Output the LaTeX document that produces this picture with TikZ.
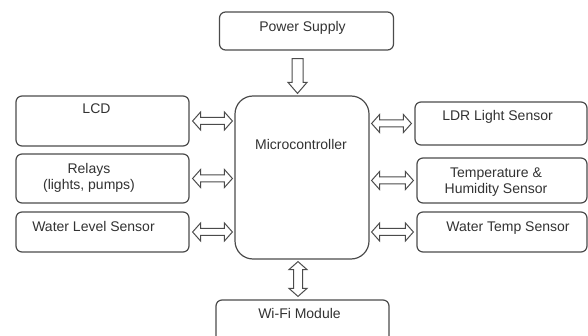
\documentclass[tikz,border=0pt]{standalone}
\usepackage{fontspec}
\setmainfont{Liberation Sans}
\usetikzlibrary{calc}
\definecolor{boxcol}{RGB}{75,75,75}
\definecolor{txtcol}{RGB}{50,50,50}
\tikzset{every picture/.style={x=1pt,y=-1pt}}
\tikzset{block/.style={draw=boxcol,line width=1.2pt,rounded corners=6pt,minimum width=174,minimum height=40,inner sep=0pt}}
\tikzset{lbl/.style={text=txtcol,font=\fontsize{14}{16}\selectfont,align=center,inner sep=0pt,anchor=north}}
\tikzset{hollow/.style={draw=boxcol,line width=1pt,line join=miter}}
\tikzset{lr arrow/.style={hollow,to path={let \p1=(\tikztostart), \p2=(\tikztotarget) in
  (\p1) -- ++(8pt,9pt) -- ++(0pt,-5.5pt) -- (\x2-8pt,\y1+3.5pt) -- ++(0pt,5.5pt) -- (\x2,\y1)
  -- ++(-8pt,-9pt) -- ++(0pt,5.5pt) -- (\x1+8pt,\y1-3.5pt) -- ++(0pt,-5.5pt) -- cycle}}}
\tikzset{ud arrow/.style={hollow,to path={let \p1=(\tikztostart), \p2=(\tikztotarget) in
  (\p1) -- ++(-9pt,-8pt) -- ++(4.5pt,0pt) -- (\x1-4.5pt,\y2+8pt) -- ++(-4.5pt,0pt) -- (\x1,\y2)
  -- ++(9pt,8pt) -- ++(-4.5pt,0pt) -- (\x1+4.5pt,\y1-8pt) -- ++(4.5pt,0pt) -- cycle}}}
\tikzset{down arrow/.style={hollow,to path={let \p1=(\tikztostart), \p2=(\tikztotarget) in
  (\x1-5.5pt,\y1) -- (\x1-5.5pt,\y2+11pt) -- ++(-4pt,0pt) -- (\x1,\y2)
  -- (\x1+9.5pt,\y2+11pt) -- ++(-4pt,0pt) -- (\x1+5.5pt,\y1) -- cycle}}}

\begin{document}
\begin{tikzpicture}
\useasboundingbox (0,0) rectangle (588,336);
\node [block,minimum height=38,label={[lbl,xshift=-4pt,yshift=-10pt]north:Power Supply}] (psu) at (306.5,31) {};
\node [block,minimum width=134,minimum height=163,rounded corners=18pt,label={[lbl,xshift=-1pt,yshift=-44pt]north:Microcontroller}] (mcu) at (302,177.5) {};
\node [block,minimum width=173,minimum height=50,label={[lbl,xshift=-6pt,yshift=-8pt]north:LCD}] (lcd) at (102.5,121) {};
\node [block,minimum width=173,minimum height=49,label={[lbl,xshift=-13.5pt,yshift=-10pt]north:Relays\\(lights, pumps)}] (relay) at (102.5,178.5) {};
\node [block,minimum width=173,label={[lbl,xshift=-9pt,yshift=-10pt]north:Water Level Sensor}] (wlevel) at (102.5,232) {};
\node [block,minimum width=172,minimum height=43,label={[lbl,xshift=-3.5pt,yshift=-9pt]north:LDR Light Sensor}] (ldr) at (501,123.5) {};
\node [block,minimum width=170,minimum height=45,label={[lbl,xshift=-6pt,yshift=-10pt]north:Temperature \&\\Humidity Sensor}] (temp) at (502,180.5) {};
\node [block,minimum width=170,label={[lbl,xshift=6pt,yshift=-10pt]north:Water Temp Sensor}] (wtemp) at (502,232) {};
\node [block,minimum width=173,minimum height=46,label={[lbl,xshift=-3pt,yshift=-9pt]north:Wi-Fi Module}] (wifi) at (302.5,323) {};
\draw [down arrow] ([shift={(-9,8)}]psu.south) to ([yshift=2pt]mcu.north);
\draw [lr arrow] ([xshift=3pt]lcd.east) to ([xshift=-2pt]mcu.west |- lcd.east);
\draw [lr arrow] ([xshift=3pt]relay.east) to ([xshift=-2pt]mcu.west |- relay.east);
\draw [lr arrow] ([xshift=3pt]wlevel.east) to ([xshift=-2pt]mcu.west |- wlevel.east);
\draw [lr arrow] ([xshift=2pt]mcu.east |- ldr.west) to ([xshift=-3pt]ldr.west);
\draw [lr arrow] ([xshift=2pt]mcu.east |- temp.west) to ([xshift=-3pt]temp.west);
\draw [lr arrow] ([xshift=2pt]mcu.east |- wtemp.west) to ([xshift=-3pt]wtemp.west);
\draw [ud arrow] ([shift={(-4,2)}]mcu.south) to ([yshift=3pt]wifi.north);
\end{tikzpicture}
\end{document}
